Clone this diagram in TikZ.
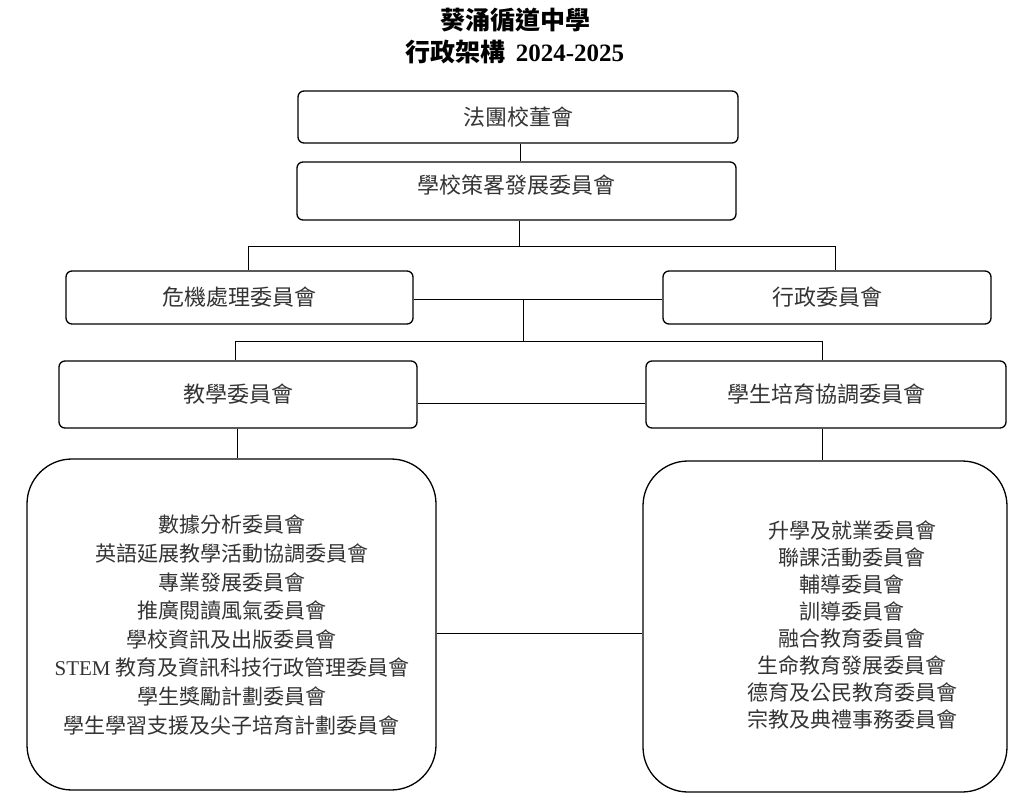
\documentclass[tikz,border=0pt]{standalone}
\usepackage{fontspec}
\setmainfont{Noto Sans CJK TC}
\newfontfamily\latserif{Liberation Serif}
\begin{document}
\begin{tikzpicture}[x=1pt,y=-1pt,
  box/.style={draw, line width=1.3pt, rounded corners=6pt, text=black!80, font=\fontsize{22}{26}\selectfont},
  boxtext/.style={text=black!80, font=\fontsize{22}{26}\selectfont},
  bigbox/.style={draw, line width=1.3pt, rounded corners=45pt},
  bigtext/.style={align=center, text=black!80},
  conn/.style={line width=1pt}]
\useasboundingbox (0,0) rectangle (1029,804);
\node[font=\fontsize{25}{30}\selectfont\bfseries] (t1) at (515,20) {葵涌循道中學};
\node[font=\fontsize{25}{30}\selectfont\bfseries] (t2) at (515,52) {行政架構\, {\latserif\bfseries 2024-2025}};
\node[box, minimum width=440pt, minimum height=52pt] (b1) at (518,117) {法團校董會};
\node[box, minimum width=439pt, minimum height=58pt] (b2) at (516.5,191) {};
\node[boxtext] (b2t) at (516.5,185) {學校策畧發展委員會};
\node[box, minimum width=347pt, minimum height=53pt] (crisis) at (239.5,297.5) {危機處理委員會};
\node[box, minimum width=328pt, minimum height=53pt] (admin) at (827,297.5) {行政委員會};
\node[box, minimum width=358pt, minimum height=67pt] (teach) at (238,394.5) {教學委員會};
\node[box, minimum width=360pt, minimum height=67pt] (stud) at (826,394.5) {學生培育協調委員會};
\node[bigbox, minimum width=409pt, minimum height=331pt] (bigL) at (231.5,624.5) {};
\node[bigtext, font=\fontsize{21}{28.6}\selectfont] (bigLt) at (232,625)
 {數據分析委員會\\英語延展教學活動協調委員會\\專業發展委員會\\推廣閱讀風氣委員會\\學校資訊及出版委員會\\{\latserif STEM} 教育及資訊科技行政管理委員會\\學生獎勵計劃委員會\\學生學習支援及尖子培育計劃委員會};
\node[bigbox, minimum width=364pt, minimum height=331pt] (bigR) at (825,626.5) {};
\node[bigtext, font=\fontsize{21}{27}\selectfont] (bigRt) at (852,625)
 {升學及就業委員會\\聯課活動委員會\\輔導委員會\\訓導委員會\\融合教育委員會\\生命教育發展委員會\\德育及公民教育委員會\\宗教及典禮事務委員會};
\coordinate (j1L) at (248,246);
\coordinate (j1R) at (835,246);
\coordinate (m1) at (523,299);
\coordinate (j2L) at (235,341);
\coordinate (j2R) at (822,341);
\draw[conn] ([xshift=2pt]b1.south) -- ([xshift=2pt]b1.south |- b2.north);
\draw[conn] ([xshift=2.5pt]b2.south) -- ([xshift=2.5pt]b2.south |- j1L);
\draw[conn] (j1L |- crisis.north) -- (j1L) -- (j1R) -- (j1R |- admin.north);
\draw[conn] ([yshift=-1.5pt]crisis.east) -- ([yshift=-1.5pt]admin.west);
\draw[conn] (m1) -- (m1 |- j2L);
\draw[conn] (j2L |- teach.north) -- (j2L) -- (j2R) -- (j2R |- stud.north);
\draw[conn] ([yshift=-8.5pt]teach.east) -- ([yshift=-8.5pt]stud.west);
\draw[conn] ([xshift=-1pt]teach.south) -- ([xshift=-1pt]teach.south |- bigL.north);
\draw[conn] ([xshift=-4pt]stud.south) -- ([xshift=-4pt]stud.south |- bigR.north);
\draw[conn] ([yshift=-8.5pt]bigL.east) -- ([yshift=-6.5pt]bigR.west);
\end{tikzpicture}
\end{document}
